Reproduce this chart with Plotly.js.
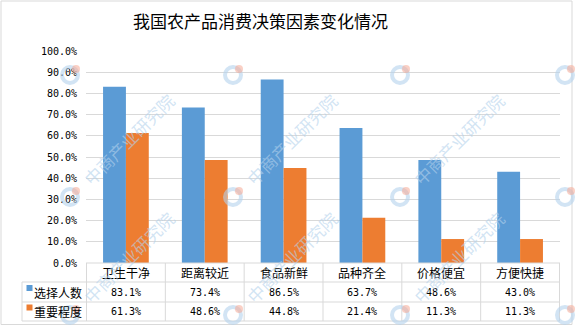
<!DOCTYPE html>
<html>
<head>
<meta charset="utf-8">
<script src="https://cdn.plot.ly/plotly-3.0.1.min.js"></script>
<style>html,body{margin:0;padding:0;background:#fff;}#chart{width:575px;height:326px;}</style>
</head>
<body>
<div id="chart"></div>
<script>
const titleText = '我国农产品消费决策因素变化情况';
const categories = ['卫生干净', '距离较近', '食品新鲜', '品种齐全', '价格便宜', '方便快捷'];
const seriesNames = ['选择人数', '重要程度'];
const selectCount = [83.1, 73.4, 86.5, 63.7, 48.6, 43.0];
const importance = [61.3, 48.6, 44.8, 21.4, 11.3, 11.3];
const seriesValues = [selectCount, importance];
const colors = ['#5B9BD5', '#ED7D31'];
const watermarkText = '中商产业研究院';

const W = 575, H = 326;
const L = 86, R = 15, T = 51, B = 63;
const PW = W - L - R, PH = H - T - B;
const bottomPx = H - B;
const px = p => (p - L) / PW;
const py = p => (bottomPx - p) / PH;

const monoFont = {family: 'DejaVu Sans Mono, monospace', size: 10, color: '#000'};
const cjkFont = {family: 'Noto Sans CJK SC, sans-serif', size: 12, color: '#000'};
const gridCol = '#D9D9D9';

const traces = seriesNames.map((n, i) => ({
  type: 'bar', name: n, x: categories, y: seriesValues[i],
  marker: {color: colors[i]}, hoverinfo: 'none'
}));

const shapes = [];
const annotations = [];
const line = (x0, y0, x1, y1, xr) => shapes.push({type: 'line', xref: xr || 'paper', yref: 'paper',
  x0: x0, x1: x1, y0: py(y0), y1: py(y1), line: {color: gridCol, width: 1}});

// table horizontal lines
line(0, 263, 1, 263);
[282, 302, 321].forEach(y => line(px(22), y, 1, y));
// vertical lines
for (let i = 0; i <= categories.length; i++) {
  shapes.push({type: 'line', xref: 'x', yref: 'paper', x0: i - 0.5, x1: i - 0.5,
    y0: py(263), y1: py(321), line: {color: gridCol, width: 1}});
}
line(px(22), 282, px(22), 321);

// category header
categories.forEach((c, i) => annotations.push({xref: 'x', yref: 'paper', x: i, y: py(272.5),
  text: c, showarrow: false, font: cjkFont, xanchor: 'center', yanchor: 'middle'}));
// rows
const rowCenters = [292, 311.5];
seriesValues.forEach((vals, s) => {
  vals.forEach((v, i) => annotations.push({xref: 'x', yref: 'paper', x: i, y: py(rowCenters[s]),
    text: v.toFixed(1) + '%', showarrow: false, font: monoFont, xanchor: 'center', yanchor: 'middle'}));
  annotations.push({xref: 'paper', yref: 'paper', x: px(32), y: py(rowCenters[s]),
    text: seriesNames[s], showarrow: false, font: cjkFont, xanchor: 'left', yanchor: 'middle'});
  shapes.push({type: 'rect', xref: 'paper', yref: 'paper', x0: px(26.5), x1: px(32.5),
    y0: py(rowCenters[s] - 7), y1: py(rowCenters[s] - 1), fillcolor: colors[s], line: {width: 0}});
});

// chart border
shapes.push({type: 'rect', xref: 'paper', yref: 'paper', x0: px(1), x1: px(572), y0: py(1), y1: py(324.5),
  line: {color: '#D9D9D9', width: 1}, fillcolor: 'rgba(0,0,0,0)'});

// watermark (logos everywhere, text only where it fits inside the picture)
const wmX = [-95, 70, 233, 400, 565];
const wmY = [-45, 75, 197, 315];
wmX.forEach(x => wmY.forEach(y => {
  const cx = x + 58, cy = y - 58;
  if (cx - 50 > 2 && cx + 50 < W - 2 && cy - 50 > 2 && cy + 50 < H - 2) {
    annotations.push({xref: 'paper', yref: 'paper', x: px(cx), y: py(cy), text: watermarkText,
      textangle: -45, showarrow: false, xanchor: 'center', yanchor: 'middle',
      font: {family: 'Noto Sans CJK SC, sans-serif', size: 17, color: 'rgba(180,210,236,0.6)'}});
  }
  shapes.push({type: 'circle', xref: 'paper', yref: 'paper', xsizemode: 'pixel', ysizemode: 'pixel',
    xanchor: px(x), yanchor: py(y), x0: -8, x1: 8, y0: -8, y1: 8,
    line: {color: 'rgba(180,210,236,0.6)', width: 4}, fillcolor: 'rgba(0,0,0,0)'});
  shapes.push({type: 'circle', xref: 'paper', yref: 'paper', xsizemode: 'pixel', ysizemode: 'pixel',
    xanchor: px(x), yanchor: py(y), x0: 2, x1: 10, y0: 2, y1: 10,
    line: {width: 0}, fillcolor: 'rgba(245,170,150,0.55)'});
}));

const layout = {
  width: W, height: H,
  margin: {l: L, r: R, t: T, b: B, pad: 0},
  paper_bgcolor: '#fff', plot_bgcolor: '#fff',
  title: {text: titleText, x: 260.5 / W, xref: 'container', xanchor: 'center',
    y: 1 - 22.5 / H, yref: 'container', yanchor: 'middle',
    font: {family: 'Noto Sans CJK SC, sans-serif', size: 17, color: '#000'}},
  showlegend: false,
  barmode: 'group', bargap: 0.42, bargroupgap: 0,
  xaxis: {showticklabels: false, showgrid: false, zeroline: false, showline: false, ticks: '', fixedrange: true},
  yaxis: {range: [0, 100], dtick: 10, tickformat: '.1f', ticksuffix: '%', showgrid: true, gridcolor: gridCol,
    gridwidth: 1, zeroline: false, showline: false, ticks: '', ticklabelstandoff: 8, tickfont: monoFont, fixedrange: true},
  shapes: shapes, annotations: annotations
};

Plotly.newPlot('chart', traces, layout, {staticPlot: true, displayModeBar: false});
</script>
</body>
</html>
